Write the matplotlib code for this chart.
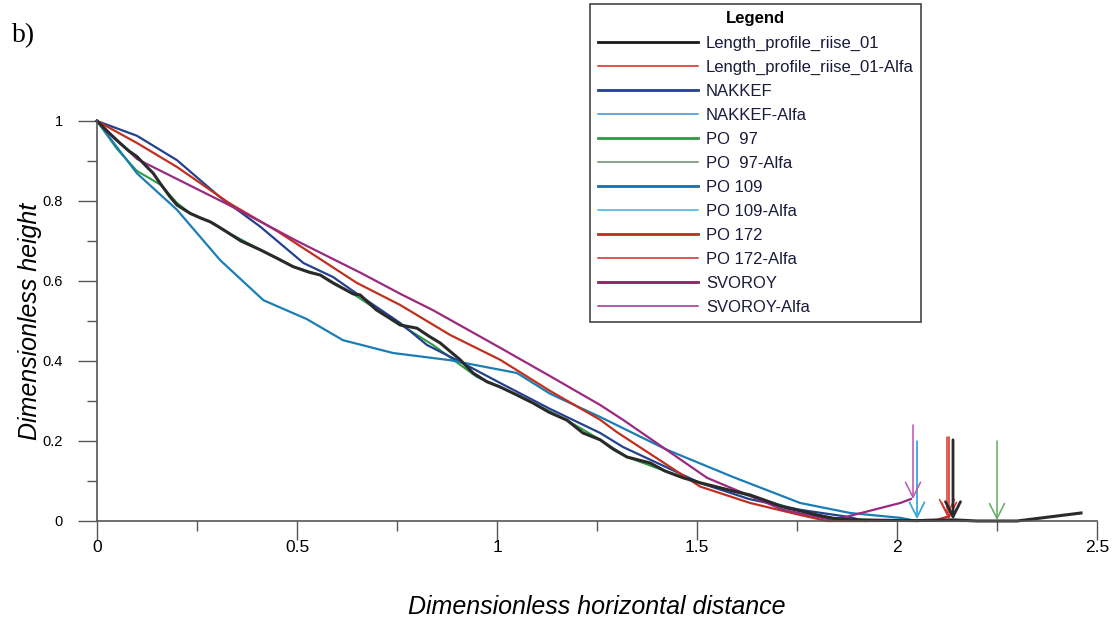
import matplotlib
matplotlib.use("Agg")
import matplotlib.pyplot as plt
from matplotlib.lines import Line2D

plt.rcParams['font.family'] = ['Liberation Sans', 'DejaVu Sans']

# Length profile (black, wiggly)
riise_x = [0, 0.03, 0.058, 0.08, 0.1, 0.124, 0.14, 0.158, 0.183, 0.2, 0.233, 0.26, 0.283, 0.3,
           0.324, 0.36, 0.408, 0.45, 0.49, 0.53, 0.558, 0.59, 0.64, 0.658, 0.698, 0.73, 0.758,
           0.8, 0.83, 0.858, 0.908, 0.94, 0.975, 1.008, 1.05, 1.09, 1.13, 1.175, 1.215, 1.258,
           1.29, 1.325, 1.383, 1.42, 1.465, 1.51, 1.55, 1.59, 1.633, 1.675, 1.715, 1.76, 1.8,
           1.84, 1.88, 1.95, 2.05, 2.14, 2.2, 2.3, 2.38, 2.46]
riise_y = [1, 0.97, 0.944, 0.925, 0.911, 0.886, 0.87, 0.844, 0.81, 0.79, 0.769, 0.757, 0.748, 0.738,
           0.723, 0.7, 0.678, 0.657, 0.636, 0.622, 0.615, 0.595, 0.568, 0.565, 0.528, 0.508, 0.49,
           0.482, 0.462, 0.445, 0.403, 0.37, 0.348, 0.335, 0.315, 0.295, 0.272, 0.252, 0.22, 0.203,
           0.18, 0.16, 0.145, 0.125, 0.108, 0.095, 0.085, 0.075, 0.065, 0.05, 0.035, 0.025, 0.015,
           0.007, 0.003, 0.002, 0.001, 0.003, 0.0, 0.0, 0.01, 0.02]

nakkef_x = [0, 0.1, 0.2, 0.307, 0.408, 0.516, 0.59, 0.64, 0.758, 0.825, 0.908, 1.008, 1.133,
            1.258, 1.315, 1.508, 1.63, 1.758, 1.88, 1.92]
nakkef_y = [1, 0.963, 0.902, 0.81, 0.736, 0.645, 0.61, 0.575, 0.495, 0.44, 0.398, 0.345, 0.28,
            0.22, 0.185, 0.095, 0.055, 0.028, 0.01, 0.0]

po97_x = [0, 0.05, 0.1, 0.16, 0.2, 0.233, 0.283, 0.324, 0.408, 0.49, 0.558, 0.64, 0.72, 0.84,
          0.95, 1.008, 1.09, 1.175, 1.258, 1.325, 1.42, 1.51, 1.59, 1.675, 1.76, 1.84, 1.95,
          2.1, 2.25]
po97_y = [1, 0.93, 0.875, 0.84, 0.795, 0.769, 0.748, 0.723, 0.678, 0.636, 0.615, 0.568, 0.515,
          0.44, 0.36, 0.335, 0.295, 0.252, 0.203, 0.16, 0.125, 0.095, 0.075, 0.05, 0.025, 0.007,
          0.002, 0.0, 0.0]

po109_x = [0, 0.1, 0.2, 0.308, 0.416, 0.524, 0.615, 0.74, 0.883, 1.008, 1.05, 1.133, 1.258,
           1.425, 1.59, 1.758, 1.883, 2.008, 2.05]
po109_y = [1, 0.869, 0.778, 0.652, 0.552, 0.505, 0.452, 0.42, 0.402, 0.378, 0.37, 0.318, 0.26,
           0.178, 0.11, 0.045, 0.02, 0.008, 0.0]

po172_x = [0, 0.1, 0.2, 0.33, 0.45, 0.55, 0.65, 0.758, 0.883, 1.008, 1.133, 1.258, 1.3,
           1.508, 1.633, 1.758, 1.825, 1.95, 2.1, 2.13]
po172_y = [1, 0.945, 0.885, 0.795, 0.725, 0.66, 0.595, 0.54, 0.465, 0.403, 0.325, 0.253, 0.222,
           0.086, 0.045, 0.015, 0.0, 0.0, 0.003, 0.012]

svoroy_x = [0, 0.1, 0.2, 0.33, 0.5, 0.66, 0.76, 0.84, 1.008, 1.133, 1.258, 1.315, 1.525,
            1.715, 1.84, 2.008, 2.035]
svoroy_y = [1, 0.905, 0.855, 0.79, 0.70, 0.62, 0.567, 0.527, 0.433, 0.362, 0.29, 0.253, 0.108,
            0.028, 0.002, 0.045, 0.055]

# "Alfa" points drawn as vertical arrows: x, arrow start, arrow tip
alfa_names = ['Length_profile_riise_01-Alfa', 'NAKKEF-Alfa', 'PO  97-Alfa', 'PO 109-Alfa',
              'PO 172-Alfa', 'SVOROY-Alfa']
alfa_x = [2.13, 2.05, 2.25, 2.05, 2.125, 2.04]
alfa_top = [0.21, 0.2, 0.2, 0.198, 0.21, 0.24]
alfa_tip = [0.005, 0.005, 0.002, 0.005, 0.012, 0.055]
# end marker of the measured profile
riise_end_x = 2.14
riise_end_top = 0.203
riise_end_tip = 0.003

x_ticks = [0, 0.5, 1, 1.5, 2, 2.5]
x_ticklabels = ['0', '0.5', '1', '1.5', '2', '2.5']
y_ticks = [0, 0.2, 0.4, 0.6, 0.8, 1]
y_ticklabels = ['0', '0.2', '0.4', '0.6', '0.8', '1']

series = [
    # name, x, y, plot colour, legend colour, width
    ('PO  97', po97_x, po97_y, '#2e9a45', '#2e9a45', 1.5),
    ('NAKKEF', nakkef_x, nakkef_y, '#23418f', '#23418f', 1.6),
    ('PO 109', po109_x, po109_y, '#1b7db5', '#1c6fa5', 1.6),
    ('PO 172', po172_x, po172_y, '#c0301e', '#b8301e', 1.6),
    ('SVOROY', svoroy_x, svoroy_y, '#9a2a80', '#8a1f5f', 1.6),
    ('Length_profile_riise_01', riise_x, riise_y, '#2a2a2a', '#1a1a1a', 2.2),
]
legend_order = ['Length_profile_riise_01', 'NAKKEF', 'PO  97', 'PO 109', 'PO 172', 'SVOROY']
alfa_colors = {
    'Length_profile_riise_01-Alfa': '#e02020',
    'NAKKEF-Alfa': '#4a95d0',
    'PO  97-Alfa': '#5fae5f',
    'PO 109-Alfa': '#3fb0d8',
    'PO 172-Alfa': '#d03a2a',
    'SVOROY-Alfa': '#c050b0',
}
legend_alfa_colors = {
    'Length_profile_riise_01-Alfa': '#e02020',
    'NAKKEF-Alfa': '#3f8fd0',
    'PO  97-Alfa': '#6a8a6a',
    'PO 109-Alfa': '#3fb0d8',
    'PO 172-Alfa': '#d02a2a',
    'SVOROY-Alfa': '#9a3090',
}

fig = plt.figure(figsize=(11.14, 6.28), dpi=100)
ax = fig.add_axes([97 / 1114, 107 / 628, 1000 / 1114, 400 / 628])

for name, xs, ys, col, _, lw in series:
    ax.plot(xs, ys, color=col, lw=lw, clip_on=False, solid_joinstyle='round')

arrow_style = '->,head_length=0.6,head_width=0.3'
for name, x, top, tip in zip(alfa_names, alfa_x, alfa_top, alfa_tip):
    ax.annotate('', xy=(x, tip), xytext=(x, top), annotation_clip=False,
                arrowprops=dict(arrowstyle=arrow_style, color=alfa_colors[name], lw=1.1,
                                shrinkA=0, shrinkB=0, mutation_scale=18))
ax.annotate('', xy=(riise_end_x, riise_end_tip), xytext=(riise_end_x, riise_end_top),
            annotation_clip=False,
            arrowprops=dict(arrowstyle=arrow_style, color='#2a2a2a', lw=2.0,
                            shrinkA=0, shrinkB=0, mutation_scale=18))

ax.set_xlim(0, 2.5)
ax.set_ylim(0, 1)
for s in ['top', 'right']:
    ax.spines[s].set_visible(False)
for s in ['left', 'bottom']:
    ax.spines[s].set_color('#555555')
    ax.spines[s].set_linewidth(1.2)

ax.set_xticks(x_ticks)
ax.set_xticklabels(x_ticklabels, fontsize=12.5)
ax.set_xticks([0.25, 0.75, 1.25, 1.75, 2.25], minor=True)
ax.set_yticks(y_ticks)
ax.set_yticklabels(y_ticklabels, fontsize=10.5)
ax.set_yticks([0.1, 0.3, 0.5, 0.7, 0.9], minor=True)
ax.tick_params(axis='x', which='major', length=13.5, width=1, color='#555555', pad=0.5)
ax.tick_params(axis='x', which='minor', length=7, width=1, color='#555555')
ax.tick_params(axis='y', which='major', length=14, width=1, color='#555555', pad=10.5)
ax.tick_params(axis='y', which='minor', length=7, width=1, color='#555555')

ax.set_xlabel('Dimensionless horizontal distance', fontsize=18, style='italic')
ax.xaxis.set_label_coords(0.5, -0.185)
ax.set_ylabel('Dimensionless height', fontsize=18, style='italic')
ax.yaxis.set_label_coords(-0.055, 0.5)

# legend in the original order, each series followed by its Alfa entry
handles = []
labels = []
for name in legend_order:
    leg_col = [s[4] for s in series if s[0] == name][0]
    handles.append(Line2D([], [], color=leg_col, lw=2.0))
    labels.append(name)
    alfa = name + '-Alfa'
    handles.append(Line2D([], [], color=legend_alfa_colors[alfa], lw=1.1))
    labels.append(alfa)

leg = fig.legend(handles, labels, loc='upper left', bbox_to_anchor=(590 / 1114, 1 - 4 / 628),
                 bbox_transform=fig.transFigure, borderaxespad=0, fontsize=12,
                 title='Legend', title_fontproperties={'weight': 'bold', 'size': 12},
                 handlelength=6, handletextpad=0.5, labelspacing=0.54, borderpad=0.45,
                 fancybox=False, framealpha=1, labelcolor='#1a1a3a')
leg.get_frame().set_edgecolor('#444444')
leg.get_frame().set_linewidth(1.2)

fig.text(12 / 1114, 1 - 42 / 628, 'b)', fontsize=20, family='Liberation Serif', va='baseline')

fig.savefig('out.png', dpi=100)
